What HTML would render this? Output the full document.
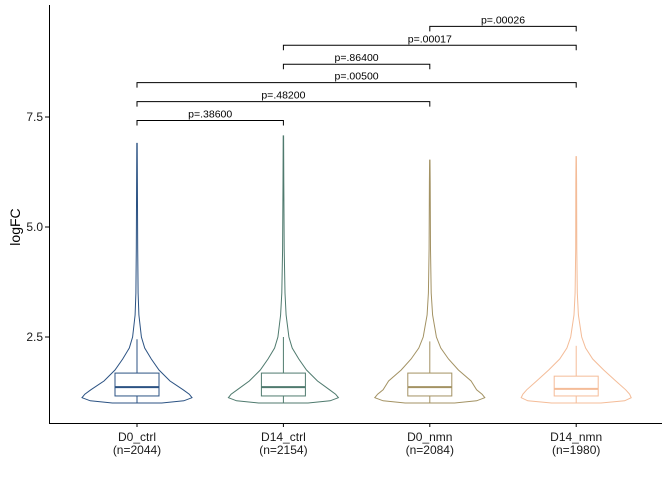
<!DOCTYPE html>
<html><head><meta charset="utf-8"><style>
body{margin:0;background:#fff}
svg{display:block;font-family:"Liberation Sans",Arial,sans-serif}
</style></head><body>
<svg id="c" width="672" height="480" viewBox="0 0 672 480">
<g id="marks"></g>
<g id="axes"></g>
</svg>
<script>
const categories=["D0_ctrl","D14_ctrl","D0_nmn","D14_nmn"];
const counts=[2044,2154,2084,1980];
const colors=["#2b5283","#4f7a6e","#a39263","#f4bc98"];
const levels=[1.0,1.05,1.12,1.2,1.3,1.5,1.75,2.0,2.25,2.5,3.0,3.5,4.5,6.0];
const dens0=[0.45,0.85,1.0,0.95,0.84,0.6,0.4,0.26,0.14,0.08,0.035,0.02,0.012,0.008];
const dens1=[0.45,0.85,1.0,0.95,0.84,0.62,0.42,0.28,0.16,0.1,0.05,0.03,0.015,0.008];
const dens2=[0.45,0.85,1.0,0.95,0.85,0.75,0.52,0.34,0.2,0.12,0.05,0.025,0.012,0.008];
const dens3=[0.45,0.88,1.0,0.97,0.9,0.72,0.5,0.3,0.17,0.1,0.04,0.02,0.01,0.008];
const densities=[dens0,dens1,dens2,dens3];
const maxVals=[6.9,7.07,6.52,6.6];
const q1=[1.16,1.16,1.16,1.16];
const medians=[1.36,1.36,1.36,1.32];
const q3=[1.68,1.68,1.68,1.61];
const whiskerHi=[2.45,2.5,2.4,2.3];
const yTicks=[2.5,5.0,7.5];
const cmpA=[0,0,0,1,1,2];
const cmpB=[1,2,3,2,3,3];
const pLabels=["p=.38600","p=.48200","p=.00500","p=.86400","p=.00017","p=.00026"];
const bracketY=[7.42,7.85,8.28,8.7,9.13,9.56];

const NS="http://www.w3.org/2000/svg";
const yS=v=>337-(v-2.5)*44;
const xS=i=>137+i*146.4;
const HW=55;
function mk(tag,attrs,parent,text){const e=document.createElementNS(NS,tag);for(const k in attrs)e.setAttribute(k,attrs[k]);if(text!=null)e.textContent=text;parent.appendChild(e);return e;}
const marks=document.getElementById('marks'),axes=document.getElementById('axes');

categories.forEach((c,i)=>{
  const cx=xS(i),d=densities[i],col=colors[i];
  const g=mk('g',{},marks);
  
  
  const pts=[];
  levels.forEach((l,k)=>{if(l<=maxVals[i])pts.push([l,d[k]]);});
  pts.push([maxVals[i],0.003]);
  let right=pts.map(p=>[cx+p[1]*HW,yS(p[0])]);
  let left=pts.slice().reverse().map(p=>[cx-p[1]*HW,yS(p[0])]);
  const path="M"+cx+","+yS(levels[0])+" "+right.map(p=>"L"+p[0].toFixed(1)+","+p[1].toFixed(1)).join(" ")+" "+left.map(p=>"L"+p[0].toFixed(1)+","+p[1].toFixed(1)).join(" ")+"Z";
  const v=mk('path',{d:path,fill:'none',stroke:col,'stroke-width':1},g);
  
  
  const w1=mk('line',{x1:cx,x2:cx,y1:yS(q3[i]),y2:yS(whiskerHi[i]),stroke:col},g);
  
  
  const w2=mk('line',{x1:cx,x2:cx,y1:yS(q1[i]),y2:yS(levels[0]),stroke:col},g);
  
  
  const b=mk('rect',{x:cx-22,y:yS(q3[i]),width:44,height:yS(q1[i])-yS(q3[i]),fill:'#fff',stroke:col},g);
  
  
  const m=mk('line',{x1:cx-22,x2:cx+22,y1:yS(medians[i]),y2:yS(medians[i]),stroke:col,'stroke-width':2},g);
  
  
  const t=mk('text',{x:cx,y:441,'text-anchor':'middle','font-size':12,fill:'#1a1a1a'},axes,c);
  
  
  const t2=mk('text',{x:cx,y:454,'text-anchor':'middle','font-size':12,fill:'#1a1a1a'},axes,'(n='+counts[i]+')');
  
  
  const tk=mk('line',{x1:cx,x2:cx,y1:423,y2:427,stroke:'#000'},axes);
  
  
});

pLabels.forEach((p,k)=>{
  const x1=xS(cmpA[k]),x2=xS(cmpB[k]),y=yS(bracketY[k]);
  const g=mk('g',{},marks);
  
  
  mk('path',{d:`M${x1},${y+5}V${y}H${x2}V${y+5}`,fill:'none',stroke:'#000','stroke-width':1},g);
  const t=mk('text',{x:(x1+x2)/2,y:y-3,'text-anchor':'middle','font-size':10.5,fill:'#000'},g,p);
  
  
});

const ax=mk('path',{d:'M49.5,5V423.5H662',fill:'none',stroke:'#000','stroke-width':1},axes);


yTicks.forEach(v=>{
  const tk=mk('line',{x1:45,x2:49,y1:yS(v),y2:yS(v),stroke:'#000'},axes);
  
  
  const t=mk('text',{x:43,y:yS(v)+4,'text-anchor':'end','font-size':12,fill:'#1a1a1a'},axes,v.toFixed(1));
  
  
});
const yt=mk('text',{x:20,y:227,'text-anchor':'middle','font-size':14,fill:'#000',transform:'rotate(-90 20 227)'},axes,'logFC');


</script>
</body></html>
